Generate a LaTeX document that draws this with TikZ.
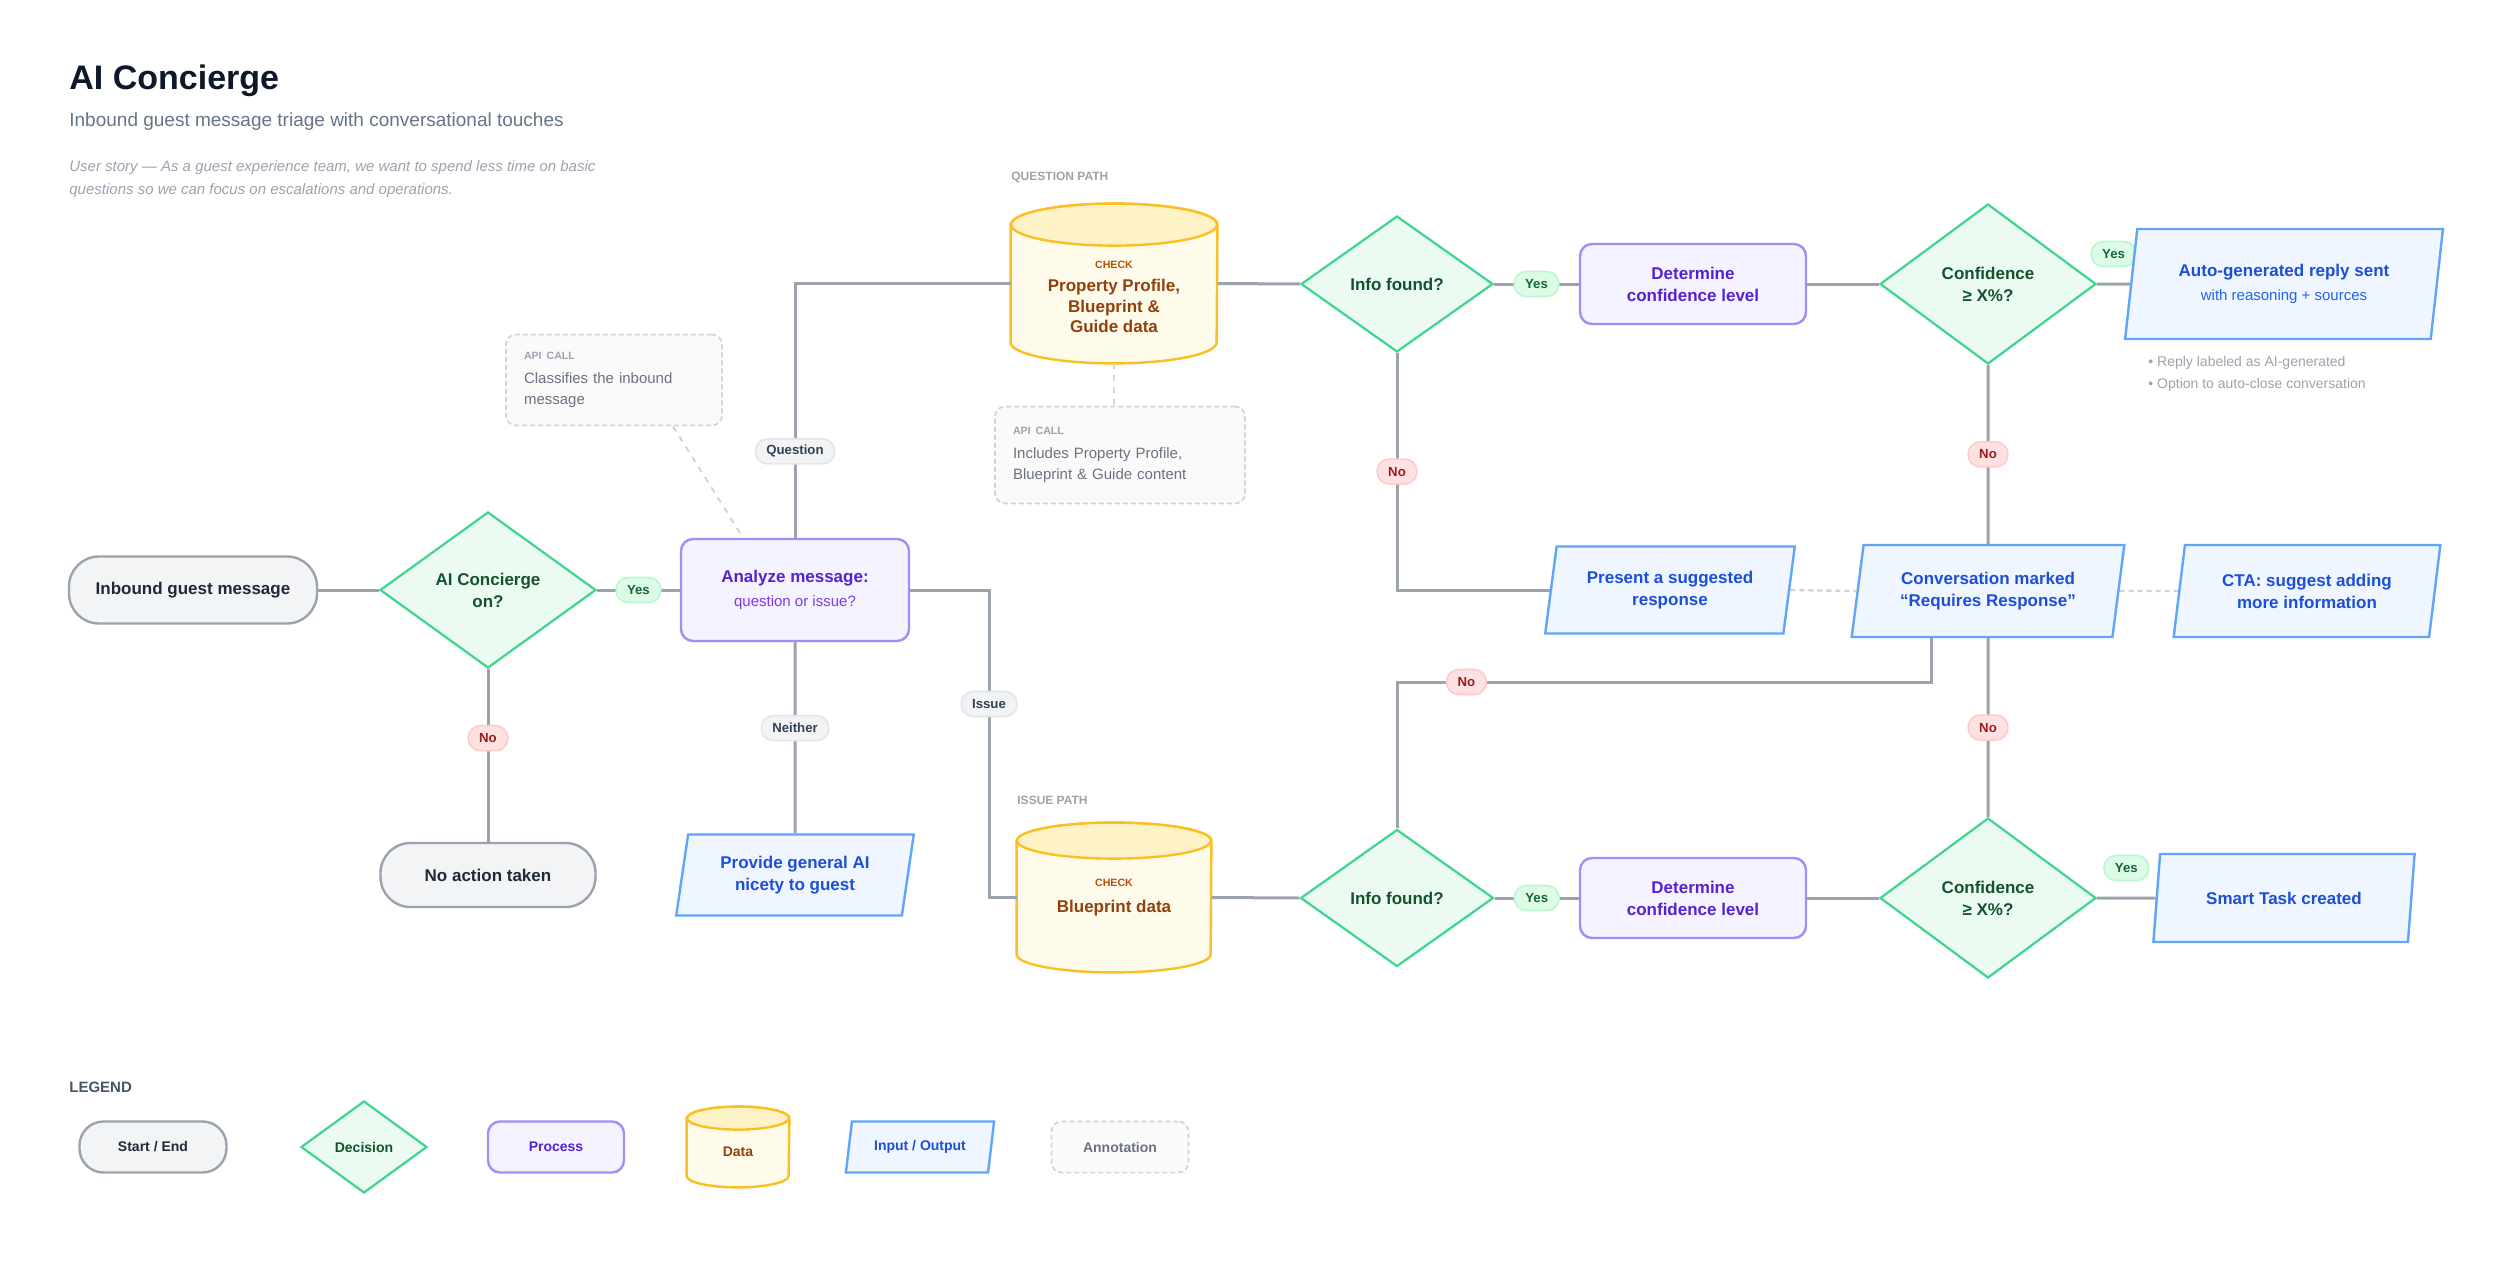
\documentclass[tikz,border=0pt]{standalone}
\usepackage{fontspec}
\setmainfont{Liberation Sans}
\usetikzlibrary{shapes.geometric,calc,backgrounds}

\definecolor{ink}{HTML}{0F172A}
\definecolor{subgray}{HTML}{64748B}
\definecolor{storygray}{HTML}{9CA3AF}
\definecolor{legendgray}{HTML}{475569}
\definecolor{flowgray}{HTML}{9CA3AF}
\definecolor{linkgray}{HTML}{CBD5E1}
\definecolor{termfill}{HTML}{F3F4F6}
\definecolor{termline}{HTML}{9CA3AF}
\definecolor{termtext}{HTML}{1F2937}
\definecolor{decfill}{HTML}{EBFBF1}
\definecolor{decline}{HTML}{3DD68C}
\definecolor{dectext}{HTML}{14532D}
\definecolor{procfill}{HTML}{F5F3FF}
\definecolor{procline}{HTML}{A78BFA}
\definecolor{proctext}{HTML}{5521D1}
\definecolor{procsub}{HTML}{7C3AED}
\definecolor{iofill}{HTML}{EFF6FF}
\definecolor{ioline}{HTML}{60A5FA}
\definecolor{iotext}{HTML}{1D4ED8}
\definecolor{iosub}{HTML}{2563EB}
\definecolor{datafill}{HTML}{FFFBEB}
\definecolor{datatop}{HTML}{FEF3C7}
\definecolor{dataline}{HTML}{FBBF24}
\definecolor{datatext}{HTML}{92400E}
\definecolor{checkbrown}{HTML}{B45309}
\definecolor{notefill}{HTML}{FAFAFA}
\definecolor{noteline}{HTML}{D1D5DB}
\definecolor{notetext}{HTML}{6B7280}
\definecolor{taggray}{HTML}{9CA3AF}
\definecolor{yesfill}{HTML}{DCFCE7}
\definecolor{yesline}{HTML}{BBF7D0}
\definecolor{yestext}{HTML}{166534}
\definecolor{nofill}{HTML}{FEE2E2}
\definecolor{noline}{HTML}{FECACA}
\definecolor{notext}{HTML}{991B1B}
\definecolor{wayfill}{HTML}{F1F3F5}
\definecolor{wayline}{HTML}{E2E5EA}
\definecolor{waytext}{HTML}{334155}

\newcommand\nodefont{\fontsize{8.5pt}{11pt}\selectfont\bfseries}
\newcommand\subfont{\fontsize{7.5pt}{10pt}\selectfont\mdseries}
\newcommand\pillfont{\fontsize{6.6pt}{8pt}\selectfont\bfseries}
\newcommand\tagfont{\fontsize{5.3pt}{7pt}\selectfont\bfseries}
\newcommand\legendfont{\fontsize{7pt}{9pt}\selectfont\bfseries}

% cylinder round a named node: node, x radius, y radius
\newcommand\drawcyl[3]{%
  \path[cylbody] ($(#1.north west)+(0,-#3)$) -- ($(#1.south west)+(0,#3)$)
    arc[start angle=180,end angle=360,x radius=#2,y radius=#3]
    -- ($(#1.north east)+(0,-#3)$)
    arc[start angle=0,end angle=180,x radius=#2,y radius=#3] -- cycle;
  \path[cyltop] ($(#1.north)+(0,-#3)$) ellipse[x radius=#2,y radius=#3];
}

\tikzset{
  txt/.style={inner sep=0pt,anchor=west},
  heading/.style={txt,font=\fontsize{17pt}{20pt}\selectfont\bfseries,text=ink},
  subhead/.style={txt,font=\fontsize{9.5pt}{12pt}\selectfont,text=subgray},
  story/.style={txt,align=left,font=\fontsize{7.5pt}{11.5pt}\selectfont\itshape,text=storygray},
  pathtag/.style={txt,font=\fontsize{6pt}{8pt}\selectfont\bfseries,text=taggray},
  base/.style={align=center,font=\nodefont,line width=1.2pt},
  startend/.style={base,draw=termline,fill=termfill,text=termtext,rounded corners=15pt,
    minimum width=124pt,minimum height=33.5pt},
  decision/.style={base,diamond,draw=decline,fill=decfill,text=dectext,line width=1.1pt,
    inner sep=0pt,minimum width=108pt,minimum height=78pt},
  process/.style={base,draw=procline,fill=procfill,text=proctext,rounded corners=6pt,
    minimum width=113pt,minimum height=40pt},
  inout/.style={base,trapezium,trapezium left angle=80,trapezium right angle=100,
    trapezium stretches=true,draw=ioline,fill=iofill,text=iotext},
  datanode/.style={inner sep=0pt},
  datatext/.style={align=center,font=\fontsize{8.5pt}{10.3pt}\selectfont\bfseries,text=datatext,inner sep=0pt},
  cylbody/.style={draw=dataline,fill=datafill,line width=1.2pt},
  cyltop/.style={draw=dataline,fill=datatop,line width=1.2pt},
  notebox/.style={draw=noteline,fill=notefill,dash pattern=on 2.5pt off 1.5pt,line width=0.9pt,
    rounded corners=5pt},
  apinote/.style={notebox,align=left,text=notetext,font=\fontsize{7.5pt}{10.5pt}\selectfont,
    inner xsep=9pt,inner ysep=0pt},
  bullets/.style={txt,align=left,text=taggray,font=\fontsize{7pt}{11pt}\selectfont},
  flow/.style={draw=flowgray,line width=1.5pt},
  link/.style={draw=linkgray,line width=1.2pt,dash pattern=on 2.5pt off 2pt},
  annolink/.style={draw=noteline,line width=1pt,dash pattern=on 3pt off 3pt},
  pill/.style={font=\pillfont,rounded corners=6pt,inner xsep=5.5pt,inner ysep=0pt,
    minimum height=12.5pt,line width=0.8pt},
  yespill/.style={pill,fill=yesfill,draw=yesline,text=yestext},
  nopill/.style={pill,fill=nofill,draw=noline,text=notext},
  waypill/.style={pill,fill=wayfill,draw=wayline,text=waytext},
}

\begin{document}
\begin{tikzpicture}[x=0.5pt,y=-0.5pt]
\useasboundingbox (0,0) rectangle (2500,1284);

\node[heading] (title) at (69,81) {AI Concierge};
\node[subhead] (subtitle) at (69,122) {Inbound guest message triage with conversational touches};
\node[story] (story) at (69,179) {User story — As a guest experience team, we want to spend less time on basic\\questions so we can focus on escalations and operations.};
\node[pathtag] (qpath) at (1011,177) {QUESTION PATH};
\node[pathtag] (ipath) at (1017,800) {ISSUE PATH};

% entry
\node[startend] (inbound) at (193,590) {Inbound guest message};
\node[decision] (enabled) at (488,590) {AI Concierge\\on?};
\node[process,minimum width=114pt,minimum height=51pt] (analyze) at (795,590) {Analyze message:\\[1pt]{\subfont\color{procsub}question or issue?}};
\node[apinote,text width=90pt,minimum height=45.5pt] (classify) at (614,380) {{\tagfont\color{taggray}API CALL}\\[1.5pt]Classifies the inbound\\message};
\node[startend,minimum width=107.5pt,minimum height=32pt] (noaction) at (488,875) {No action taken};
\node[inout,minimum width=119.5pt,minimum height=40.5pt] (nicety) at (795,875) {Provide general AI\\nicety to guest};

% question path
\node[datanode,minimum width=103pt,minimum height=79.5pt] (qdata) at (1114,283.5) {};
\node[apinote,text width=107pt,minimum height=48.5pt] (includes) at (1120,455) {{\tagfont\color{taggray}API CALL}\\[1.5pt]Includes Property Profile,\\Blueprint \& Guide content};
\node[decision,minimum width=96pt,minimum height=68pt] (qfound) at (1397,284) {Info found?};
\node[process] (qconf) at (1693,284) {Determine\\confidence level};
\node[decision,minimum height=80pt] (qsure) at (1988,284) {Confidence\\≥ X\%?};
\node[inout,minimum width=159pt,minimum height=55pt] (autoreply) at (2284,284) {Auto-generated reply sent\\[1pt]{\subfont\color{iosub}with reasoning + sources}};
\node[bullets] (replynotes) at (2148,374) {• Reply labeled as AI-generated\\• Option to auto-close conversation};
\node[inout,minimum width=125pt,minimum height=43.5pt] (suggest) at (1670,590) {Present a suggested\\response};
\node[inout,minimum width=136.5pt,minimum height=46pt] (flagged) at (1988,591) {Conversation marked\\“Requires Response”};
\node[inout,minimum width=133.5pt,minimum height=46pt] (cta) at (2307,591) {CTA: suggest adding\\more information};

% issue path
\node[datanode,minimum width=97pt,minimum height=74.5pt] (idata) at (1114,897.5) {};
\node[decision,minimum width=96.5pt,minimum height=68.5pt] (ifound) at (1397,898) {Info found?};
\node[process] (iconf) at (1693,898) {Determine\\confidence level};
\node[decision,minimum height=80pt] (isure) at (1988,898) {Confidence\\≥ X\%?};
\node[inout,minimum width=131pt,minimum height=44pt] (smarttask) at (2284,898) {Smart Task created};

% legend
\node[pathtag,text=legendgray,font=\fontsize{7.5pt}{9pt}\selectfont\bfseries] (legend) at (69,1087) {LEGEND};
\node[startend,minimum width=73.5pt,minimum height=25.5pt,rounded corners=12pt,font=\legendfont] (lstart) at (153,1147) {Start / End};
\node[decision,minimum width=63pt,minimum height=46pt,font=\legendfont] (ldecision) at (364,1147) {Decision};
\node[process,minimum width=68pt,minimum height=25.5pt,font=\legendfont] (lprocess) at (556,1147) {Process};
\node[datanode,minimum width=51pt,minimum height=40pt] (ldata) at (738,1147) {};
\node[inout,minimum width=74.5pt,minimum height=25.5pt,font=\legendfont] (lio) at (920,1147) {Input / Output};
\node[notebox,minimum width=68.5pt,minimum height=25.5pt,font=\legendfont,text=notetext] (lnote) at (1120,1147) {Annotation};

\coordinate (issuebend) at (989,704);
\coordinate (nojoin) at (1397,682);
\coordinate (flagfoot) at ($(flagged.south)+(-57,0)$);

\begin{scope}[on background layer]
\fill[white] (0,0) rectangle (2500,1284);
\drawcyl{qdata}{51.5pt}{10.5pt}
\drawcyl{idata}{48.5pt}{9pt}
\drawcyl{ldata}{25.5pt}{5.75pt}

\draw[flow] (inbound.east) -- (enabled.west);
\draw[flow] (enabled.east) -- node[yespill]{Yes} (analyze.west);
\draw[flow] (enabled.south) -- node[nopill,pos=0.4]{No} (noaction.north);
\draw[flow] (analyze.north) |- node[waypill,pos=0.17]{Question} (qdata.west);
\draw[flow] (analyze.south) -- node[waypill,pos=0.45]{Neither} (nicety.north);
\draw[flow] (analyze.east) -| (issuebend) node[waypill]{Issue} |- (idata.west);

\draw[flow] (qdata.east) -- (qfound.west);
\draw[flow] (qfound.east) -- node[yespill]{Yes} (qconf.west);
\draw[flow] (qconf.east) -- (qsure.west);
\draw[flow] (qsure.east) -- node[yespill,yshift=15pt]{Yes} (autoreply.west);
\draw[flow] (qfound.south) |- node[nopill,pos=0.25]{No} (suggest.west);
\draw[flow] (qsure.south) -- node[nopill]{No} (flagged.north);
\draw[link] (suggest.east) -- (flagged.west);
\draw[link] (flagged.east) -- (cta.west);

\draw[flow] (idata.east) -- (ifound.west);
\draw[flow] (ifound.east) -- node[yespill]{Yes} (iconf.west);
\draw[flow] (iconf.east) -- (isure.west);
\draw[flow] (isure.east) -- node[yespill,yshift=15pt]{Yes} (smarttask.west);
\draw[flow] (isure.north) -- node[nopill]{No} (flagged.south);
\draw[flow] (ifound.north) -- (nojoin) -- node[nopill,pos=0.13]{No} (nojoin -| flagfoot) -- (flagfoot);

\draw[annolink] ($(classify.south)+(59,0)$) -- ($(analyze.north)+(-52,0)$);
\draw[annolink] (qdata.south) -- (qdata.south |- includes.north);
\end{scope}

\node[datatext] (qdatatext) at (1114,297) {{\tagfont\color{checkbrown}CHECK}\\[1.2pt]Property Profile,\\Blueprint \&\\Guide data};
\node[datatext] (idatatext) at (1114,898) {{\tagfont\color{checkbrown}CHECK}\\[2.7pt]Blueprint data};
\node[datatext,font=\legendfont] (ldatatext) at (738,1152) {Data};
\end{tikzpicture}
\end{document}
